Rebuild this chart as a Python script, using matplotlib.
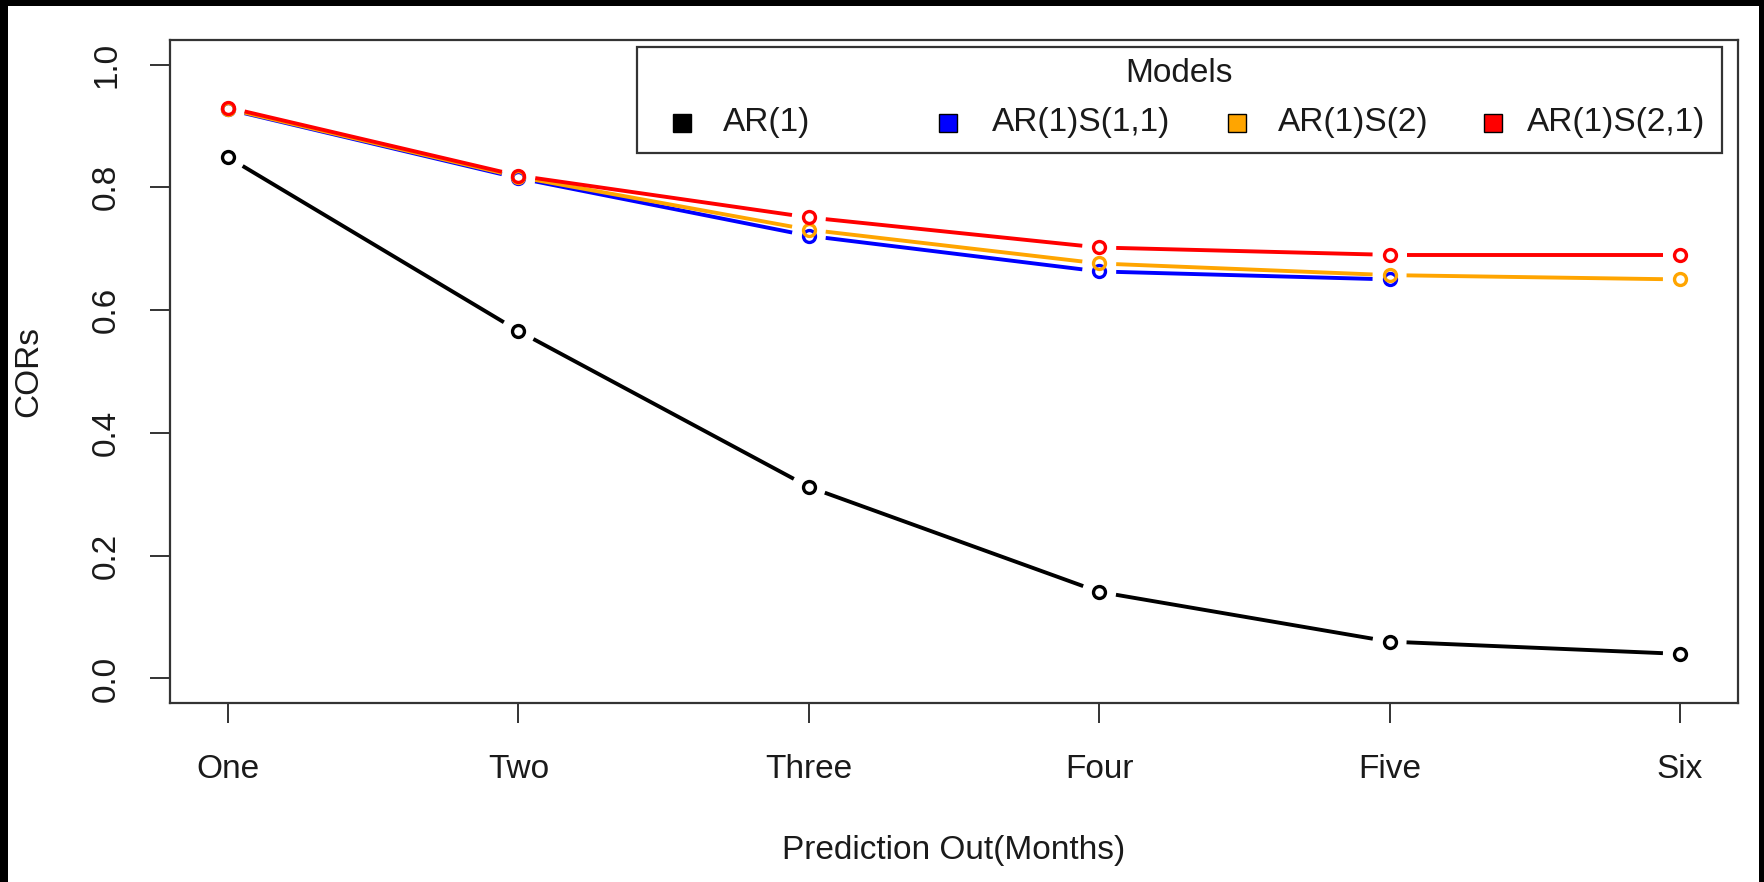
import numpy as np
import matplotlib
matplotlib.use("Agg")
import matplotlib.pyplot as plt
from matplotlib.patches import Rectangle

# ---- data -------------------------------------------------------------
horizons = ["One", "Two", "Three", "Four", "Five", "Six"]
ar1 = [0.849, 0.566, 0.312, 0.141, 0.060, 0.040]
ar1_s11 = [0.927, 0.815, 0.721, 0.663, 0.650, np.nan]
ar1_s2 = [0.928, 0.817, 0.731, 0.676, 0.657, 0.650]
ar1_s21 = [0.930, 0.819, 0.751, 0.702, 0.690, 0.690]

model_names = ["AR(1)", "AR(1)S(1,1)", "AR(1)S(2)", "AR(1)S(2,1)"]
model_colors = ["black", "#0000FF", "#FFA500", "#FF0000"]
series = [ar1, ar1_s11, ar1_s2, ar1_s21]
y_ticks = [0.0, 0.2, 0.4, 0.6, 0.8, 1.0]

# ---- figure layout (pixel based) -------------------------------------
W, H, DPI = 1764, 882, 100
plt.rcParams["font.family"] = ["Liberation Sans", "DejaVu Sans"]
FS = 24
TXT = "#1a1a1a"

fig = plt.figure(figsize=(W / DPI, H / DPI), dpi=DPI)
fig.patch.set_facecolor("white")


def px_box(x0, y0, x1, y1):
    """Figure-fraction rectangle from pixel corners (top-left origin)."""
    return [x0 / W, 1 - y1 / H, (x1 - x0) / W, (y1 - y0) / H]


ax = fig.add_axes(px_box(170, 40, 1738, 703))
x = np.arange(1, len(horizons) + 1)
ax.set_xlim(0.8, 6.2)
ax.set_ylim(-0.04, 1.04)

for s in ax.spines.values():
    s.set_color("#333333")
    s.set_linewidth(1.6)

ax.set_xticks(x)
ax.set_xticklabels(horizons, fontsize=FS, color=TXT)
ax.set_yticks(y_ticks)
ax.set_yticklabels([f"{v:.1f}" for v in y_ticks], fontsize=FS, color=TXT,
                   rotation=90, va="center")
ax.tick_params(axis="both", length=14.4, width=1.4, color="#333333")
ax.tick_params(axis="x", pad=22)
ax.tick_params(axis="y", pad=20)

ax.set_xlabel("Prediction Out(Months)", fontsize=FS, color=TXT, labelpad=36)
ax.set_ylabel("CORs", fontsize=FS, color=TXT, labelpad=34)

# ---- lines with gaps around the points (R type = "b") ----------------
GAP = 17.0      # px between point centre and segment end
LW = 2.8        # pt
MS = 8.6        # pt
MEW = 2.4       # pt


def draw_series(xv, yv, color):
    yv = np.asarray(yv, dtype=float)
    pts = ax.transData.transform(np.column_stack([xv, yv]))
    inv = ax.transData.inverted()
    for i in range(len(xv) - 1):
        if np.isnan(yv[i]) or np.isnan(yv[i + 1]):
            continue
        p0, p1 = pts[i], pts[i + 1]
        d = p1 - p0
        L = np.hypot(*d)
        if L <= 2 * GAP:
            continue
        u = d / L
        seg = inv.transform(np.vstack([p0 + u * GAP, p1 - u * GAP]))
        ax.plot(seg[:, 0], seg[:, 1], color=color, lw=LW,
                solid_capstyle="butt", zorder=2)
    ax.plot(xv, yv, linestyle="none", marker="o", ms=MS, mfc="none",
            mec=color, mew=MEW, zorder=3)


for yv, c in zip(series, model_colors):
    draw_series(x, yv, c)

# ---- legend box --------------------------------------------------------
lx0, ly0, lx1, ly1 = 637, 47, 1722, 153
fig.patches.append(Rectangle((lx0 / W, 1 - ly1 / H), (lx1 - lx0) / W,
                             (ly1 - ly0) / H, transform=fig.transFigure,
                             facecolor="white", edgecolor="#333333",
                             linewidth=1.6, zorder=5))
fig.text((lx0 + lx1) / 2 / W, 1 - 74 / H, "Models", ha="center",
         va="center", fontsize=FS, color=TXT, zorder=6)
swatch_x = [682, 948, 1237, 1493]
label_x = [723, 992, 1278, 1527]
row_y = 123
sw = 18
for name, c, sx, tx in zip(model_names, model_colors, swatch_x, label_x):
    fig.patches.append(Rectangle(((sx - sw / 2) / W, 1 - (row_y + sw / 2) / H),
                                 sw / W, sw / H, transform=fig.transFigure,
                                 facecolor=c, edgecolor="black",
                                 linewidth=1.0, zorder=6))
    fig.text(tx / W, 1 - row_y / H, name, ha="left", va="center",
             fontsize=FS, color=TXT, zorder=6)

# ---- dark frame around the image -------------------------------------
for bx in [(0, 0, W, 6), (0, 0, 8, H), (W - 5, 0, W, H)]:
    fig.patches.append(Rectangle((bx[0] / W, 1 - bx[3] / H),
                                 (bx[2] - bx[0]) / W, (bx[3] - bx[1]) / H,
                                 transform=fig.transFigure, facecolor="black",
                                 edgecolor="none", zorder=10))

fig.savefig("out.png", dpi=DPI)
